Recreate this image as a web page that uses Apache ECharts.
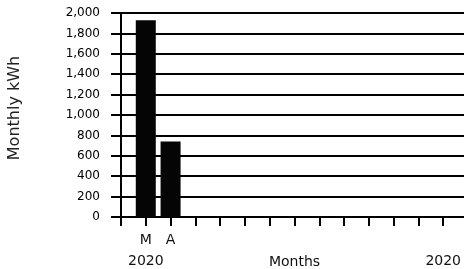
<!DOCTYPE html>
<html>
<head>
<meta charset="utf-8">
<script src="https://cdn.jsdelivr.net/npm/echarts@6/dist/echarts.min.js"></script>
<style>
html, body { margin: 0; padding: 0; background: #fff; }
#chart { width: 464px; height: 269px; }
</style>
</head>
<body>
<div id="chart"></div>
<script>
// month slots, first one is empty spacer before March
var months = ['', 'M', 'A', '', '', '', '', '', '', '', '', '', '', '', ''];
var years  = ['', '2020', '', '', '', '', '', '', '', '', '', '', '', '2020', ''];
var kwh    = [null, 1930, 740, null, null, null, null, null, null, null, null, null, null, null, null];
var yTicks = [0, 200, 400, 600, 800, 1000, 1200, 1400, 1600, 1800, 2000];

var myChart = echarts.init(document.getElementById('chart'));

var option = {
	animation: false,
	backgroundColor: '#fff',
	textStyle: { fontFamily: 'DejaVu Sans, sans-serif' },
	grid: {
		left: 121,
		top: 13,
		bottom: 52,
		right: -4,
		outerBoundsMode: 'none'
	},
	xAxis: {
		type: 'category',
		boundaryGap: false,
		data: months,
		name: 'Months',
		nameLocation: 'middle',
		nameGap: 38,
		nameMoveOverlap: false,
		nameTextStyle: { fontSize: 14, color: '#111' },
		axisLine: { lineStyle: { color: '#000', width: 2 } },
		axisTick: { interval: 0, length: 9, lineStyle: { color: '#000', width: 2 } },
		axisLabel: {
			interval: 0,
			margin: 13,
			fontSize: 14,
			color: '#111',
			lineHeight: 21,
			formatter: function (v, i) {
				return (v || ' ') + '\n' + (years[i] || ' ');
			}
		},
		splitLine: { show: false }
	},
	yAxis: {
		type: 'value',
		min: yTicks[0],
		max: yTicks[yTicks.length - 1],
		interval: 200,
		name: 'Monthly kWh',
		nameLocation: 'middle',
		nameGap: 98,
		nameMoveOverlap: false,
		nameTextStyle: { fontSize: 16, color: '#222', padding: [0, 0, 0, 14] },
		axisLine: { show: true, lineStyle: { color: '#000', width: 2 } },
		axisTick: { show: true, length: 10, lineStyle: { color: '#000', width: 2 } },
		axisLabel: {
			margin: 21,
			fontSize: 12,
			color: '#000',
			formatter: function (v) { return v.toLocaleString('en-US'); }
		},
		splitLine: { show: true, lineStyle: { color: '#000', width: 2 } }
	},
	series: [{
		type: 'bar',
		data: kwh,
		barWidth: 20,
		itemStyle: { color: '#050505' }
	}]
};

myChart.setOption(option);
</script>
</body>
</html>
